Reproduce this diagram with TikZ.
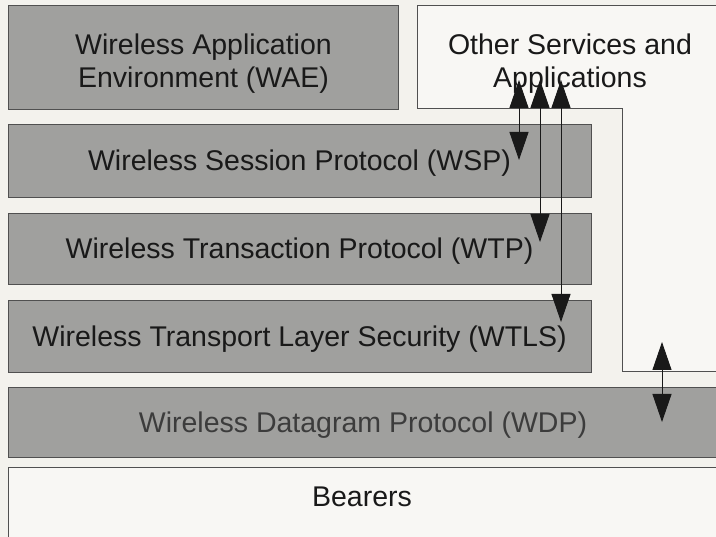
\documentclass[tikz,border=0pt]{standalone}
\usepackage{fontspec}
\setmainfont{Liberation Sans}
\usetikzlibrary{arrows.meta}
\definecolor{paper}{RGB}{243,242,237}
\definecolor{boxgray}{RGB}{160,160,158}
\definecolor{edge}{RGB}{80,80,80}
\definecolor{ink}{RGB}{25,25,25}
\definecolor{softink}{RGB}{60,60,60}
\definecolor{lightbox}{RGB}{248,247,244}
\tikzset{
  bigtext/.style={font=\fontsize{28.5}{33}\selectfont},
  layer/.style={draw=edge, line width=0.9pt, fill=boxgray, inner sep=0pt,
    bigtext, text=ink, align=center, text depth=0.5pt},
  openbox/.style={layer, fill=lightbox},
  link/.style={draw=ink, line width=0.9pt,
    {Triangle[width=19pt,length=28pt]}-{Triangle[width=19pt,length=28pt]}},
}
\begin{document}
\begin{tikzpicture}[x=1pt,y=-1pt]
  \useasboundingbox (0,0) rectangle (716,537);
  \fill[paper] (0,0) rectangle (716,537);
  \clip (0,0) rectangle (716,537);

  % application layer and the side stack of other services
  \node[layer, minimum width=390pt, minimum height=104pt] (wae) at (203.5,57) {};
  \node[bigtext, text=ink, align=center] (waetext) at (203.5,64)
    {Wireless Application\\Environment (WAE)};
  \draw[edge, line width=0.9pt, fill=lightbox]
    (417,5) -- (730,5) -- (730,371) -- (622,371) -- (622,108) -- (417,108) -- cycle;
  \node[bigtext, text=ink, align=center] (osa) at (570,64)
    {Other Services and\\Applications};

  % protocol layers
  \node[layer, minimum width=583pt, minimum height=73pt] (wsp) at (299.5,160.5)
    {Wireless Session Protocol (WSP)};
  \node[layer, minimum width=583pt, minimum height=71pt] (wtp) at (299.5,248.5)
    {Wireless Transaction Protocol (WTP)};
  \node[layer, minimum width=583pt, minimum height=72pt] (wtls) at (299.5,336)
    {Wireless Transport Layer Security (WTLS)};
  \node[layer, minimum width=720pt, minimum height=70pt, text=softink] (wdp) at (368,422)
    {\hspace*{-10pt}Wireless Datagram Protocol (WDP)};
  \node[openbox, minimum width=720pt, minimum height=100pt, anchor=north west] (bear) at (8,467) {};
  \node[bigtext, text=ink] (beartext) at (362,497) {Bearers};

  % service access links
  \coordinate (t1) at (519,80);  \coordinate (b1) at (519,160);
  \coordinate (t2) at (540,80);  \coordinate (b2) at (540,242);
  \coordinate (t3) at (561,80);  \coordinate (b3) at (561,322);
  \coordinate (t4) at (662,342); \coordinate (b4) at (662,422);
  \draw[link] (t1) -- (b1);
  \draw[link] (t2) -- (b2);
  \draw[link] (t3) -- (b3);
  \draw[link] (t4) -- (b4);
\end{tikzpicture}
\end{document}
